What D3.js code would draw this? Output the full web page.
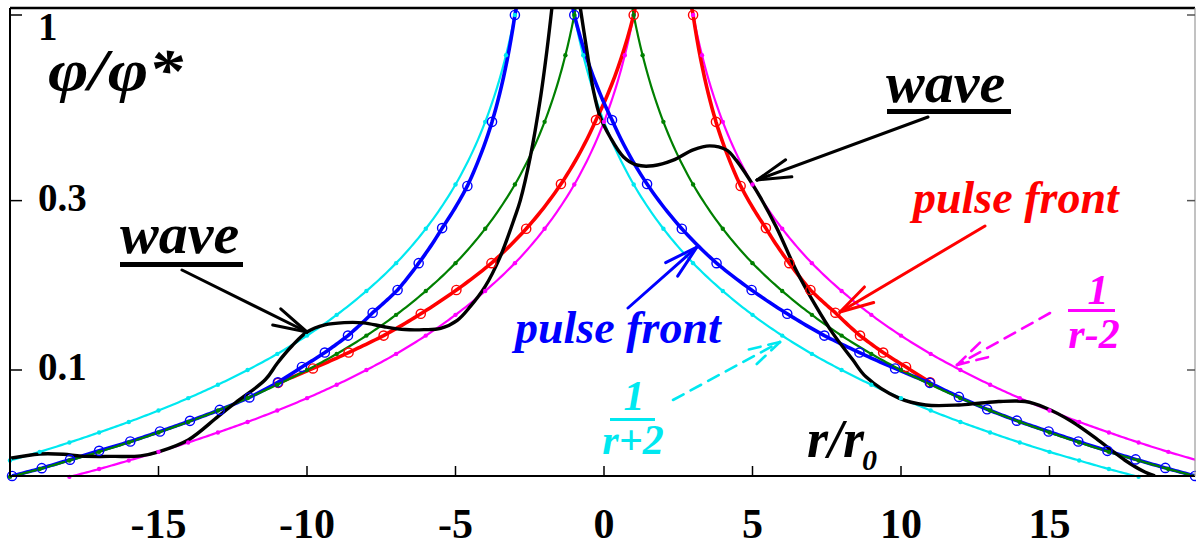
<!DOCTYPE html>
<html><head><meta charset="utf-8">
<script src="https://cdn.jsdelivr.net/npm/d3@7"></script>
<style>
html,body{margin:0;padding:0;background:#fff;}
svg{display:block;}
text{font-family:"Liberation Serif","Times New Roman",serif;font-weight:bold;}
</style></head><body>
<svg id="chart" width="1196" height="544"></svg>
<script>
// ---------- data (r/r0 , phi/phi*) ----------
const xTicks = [-15, -10, -5, 0, 5, 10, 15];
const xTickLabels = ["-15", "-10", "-5", "0", "5", "10", "15"];
const yTicks = [1, 0.3, 0.1];
const yTickLabels = ["1", "0.3", "0.1"];

const cyanLeft = [[-20,0.0556],[-19,0.0588],[-18,0.0625],[-17,0.0667],[-16,0.0714],[-15,0.0769],[-14,0.0833],[-13,0.0909],[-12,0.1],[-11,0.111],[-10,0.125],[-9,0.143],[-8,0.167],[-7,0.2],[-6,0.25],[-5,0.333],[-4,0.5],[-3.3,0.77],[-3,1],[-2.95,1.05]];
const cyanRight = [[-1.05,1.05],[-1,1],[-0.7,0.77],[0,0.5],[1,0.333],[2,0.25],[3,0.2],[4,0.167],[5,0.143],[6,0.125],[7,0.111],[8,0.1],[9,0.0909],[10,0.0833],[11,0.0769],[12,0.0714],[13,0.0667],[14,0.0625],[15,0.0588],[16,0.0556],[17,0.0526],[18,0.05]];

const greenLeft = [[-20,0.05],[-19,0.0526],[-18,0.0556],[-17,0.0588],[-16,0.0625],[-15,0.0667],[-14,0.0714],[-13,0.0769],[-12,0.0833],[-11,0.0909],[-10,0.1],[-9,0.111],[-8,0.125],[-7,0.143],[-6,0.167],[-5,0.2],[-4,0.25],[-3,0.333],[-2,0.5],[-1.3,0.77],[-1,1],[-0.95,1.05]];
const greenRight = [[0.95,1.05],[1,1],[1.3,0.77],[2,0.5],[3,0.333],[4,0.25],[5,0.2],[6,0.167],[7,0.143],[8,0.125],[9,0.111],[10,0.1],[11,0.0909],[12,0.0833],[13,0.0769],[14,0.0714],[15,0.0667],[16,0.0625],[17,0.0588],[18,0.0556],[19,0.0526],[20,0.05]];

const magentaLeft = [[-18,0.05],[-17,0.0526],[-16,0.0556],[-15,0.0588],[-14,0.0625],[-13,0.0667],[-12,0.0714],[-11,0.0769],[-10,0.0833],[-9,0.0909],[-8,0.1],[-7,0.111],[-6,0.125],[-5,0.143],[-4,0.167],[-3,0.2],[-2,0.25],[-1,0.333],[0,0.5],[0.7,0.77],[1,1],[1.05,1.05]];
const magentaRight = [[2.95,1.05],[3,1],[3.3,0.77],[4,0.5],[5,0.333],[6,0.25],[7,0.2],[8,0.167],[9,0.143],[10,0.125],[11,0.111],[12,0.1],[13,0.0909],[14,0.0833],[15,0.0769],[16,0.0714],[17,0.0667],[18,0.0625],[19,0.0588],[20,0.0556]];

const blueLeft = [[-19.93,0.0503],[-18.93,0.0529],[-17.98,0.0559],[-17.0,0.0592],[-15.95,0.0629],[-14.95,0.0671],[-13.94,0.0719],[-12.94,0.0772],[-11.94,0.0837],[-10.98,0.0923],[-10.17,0.102],[-9.4,0.112],[-8.62,0.125],[-7.79,0.145],[-6.95,0.168],[-6.24,0.2],[-5.45,0.251],[-4.6,0.33],[-3.77,0.5],[-3,1],[-2.95,1.05]];
const blueRight = [[-1.05,1.05],[-1,1],[0.27,0.506],[1.45,0.334],[2.62,0.25],[3.79,0.2],[4.97,0.168],[6.17,0.144],[7.42,0.125],[8.6,0.112],[9.8,0.101],[10.97,0.092],[11.95,0.084],[12.9,0.0775],[13.9,0.072],[14.97,0.0671],[15.97,0.0629],[16.95,0.0592],[17.9,0.056],[18.9,0.053],[19.9,0.0503]];

const redLeft = [[-10.97,0.092],[-9.8,0.101],[-8.6,0.112],[-7.42,0.125],[-6.17,0.144],[-4.97,0.168],[-3.79,0.2],[-2.62,0.25],[-1.45,0.334],[-0.27,0.506],[1,1],[1.05,1.05]];
const redRight = [[2.95,1.05],[3,1],[3.77,0.5],[4.6,0.33],[5.45,0.251],[6.24,0.2],[6.95,0.168],[7.79,0.145],[8.62,0.125],[9.4,0.112],[10.17,0.102],[10.98,0.0923]];

const waveLeft = [[-20,0.0564],[-19,0.058],[-18.2,0.0579],[-17.6,0.0572],[-16.5,0.0571],[-15.6,0.0573],[-15.0,0.0588],[-14.0,0.0635],[-13.0,0.0739],[-12.4,0.081],[-11.4,0.094],[-11.0,0.1045],[-10.5,0.117],[-10.0,0.128],[-9.4,0.134],[-8.75,0.136],[-8.1,0.1358],[-7.4,0.1324],[-6.7,0.13],[-6.06,0.1299],[-5.5,0.131],[-4.94,0.138],[-4.5,0.151],[-4.0,0.172],[-3.5,0.208],[-3.0,0.27],[-2.82,0.3],[-2.48,0.399],[-2.15,0.576],[-1.92,0.797],[-1.75,1.055]];
const waveRight = [[-0.8,1.05],[-0.58,0.797],[-0.36,0.615],[-0.13,0.517],[0.2,0.454],[0.65,0.399],[1.1,0.378],[1.65,0.376],[2.33,0.39],[3.0,0.417],[3.56,0.428],[4.12,0.417],[4.45,0.39],[5.12,0.321],[5.8,0.253],[6.47,0.191],[7.14,0.151],[7.7,0.127],[8.37,0.107],[8.82,0.0957],[9.93,0.0833],[10.83,0.0797],[11.95,0.0797],[12.62,0.0806],[13.29,0.0815],[14.18,0.0815],[14.86,0.0783],[15.75,0.0716],[16.64,0.0635],[17.54,0.0557],[18.21,0.0516],[18.55,0.0503]];

// ---------- scales ----------
const svg = d3.select("#chart");
const x = d3.scaleLinear().domain([-20, 20]).range([10, 1198]);
const y = d3.scaleLog().domain([0.1, 1]).range([370, 15]);
const L = 10, R = 1195, T = 8, B = 476;

svg.append("defs").append("clipPath").attr("id", "clip")
  .append("rect").attr("x", L).attr("y", T).attr("width", R - L).attr("height", B - T);

// render-time densification: linear in r and in 1/phi between read points
function dense(pts) {
  const out = [];
  for (let i = 0; i < pts.length - 1; i++) {
    const [r0, v0] = pts[i], [r1, v1] = pts[i + 1];
    for (let k = 0; k < 12; k++) {
      const t = k / 12;
      const r = r0 + (r1 - r0) * t;
      const inv = 1 / v0 + (1 / v1 - 1 / v0) * t;
      out.push([r, 1 / inv]);
    }
  }
  out.push(pts[pts.length - 1]);
  return out;
}
const lineLin = d3.line().x(d => x(d[0])).y(d => y(d[1]));
const lineSmooth = d3.line().x(d => x(d[0])).y(d => y(d[1])).curve(d3.curveCatmullRom.alpha(0.5));

const gLines = svg.append("g").attr("clip-path", "url(#clip)");
const gMarks = svg.append("g");

function series(branches, color, width, marker) {
  branches.forEach(b => {
    gLines.append("path").attr("d", lineLin(dense(b))).attr("fill", "none")
      .attr("stroke", color).attr("stroke-width", width).attr("stroke-linejoin", "round");
    const pts = b.filter(d => d[1] <= 1.001 && d[1] >= 0.0495);
    if (marker === "dot") {
      gMarks.selectAll(null).data(pts).enter().append("circle")
        .attr("cx", d => x(d[0])).attr("cy", d => y(d[1])).attr("r", 2.2).attr("fill", color);
    } else if (marker === "circle") {
      gMarks.selectAll(null).data(pts).enter().append("circle")
        .attr("cx", d => x(d[0])).attr("cy", d => y(d[1])).attr("r", 4.6)
        .attr("fill", "none").attr("stroke", color).attr("stroke-width", 1.4);
    }
  });
}

series([cyanLeft, cyanRight], "#00e8f0", 2.2, "dot");
series([magentaLeft, magentaRight], "#ff00ff", 2.2, "dot");
series([redLeft, redRight], "#ff0000", 3.6, "circle");
series([blueLeft, blueRight], "#0000ff", 3.6, "circle");
series([greenLeft, greenRight], "#008000", 2.2, "dot");

[waveLeft, waveRight].forEach(b => {
  gLines.append("path").attr("d", lineSmooth(b)).attr("fill", "none")
    .attr("stroke", "#000").attr("stroke-width", 3.4).attr("stroke-linejoin", "round");
});

// ---------- frame and ticks ----------
svg.append("line").attr("x1", L).attr("x2", R).attr("y1", T).attr("y2", T).attr("stroke", "#000").attr("stroke-width", 2.6);
svg.append("line").attr("x1", L).attr("x2", L).attr("y1", T).attr("y2", B).attr("stroke", "#000").attr("stroke-width", 2);
svg.append("line").attr("x1", L).attr("x2", R).attr("y1", B).attr("y2", B).attr("stroke", "#000").attr("stroke-width", 2.2);
svg.append("line").attr("x1", R).attr("x2", R).attr("y1", T).attr("y2", B).attr("stroke", "#999").attr("stroke-width", 1.2);

xTicks.forEach(t => {
  svg.append("line").attr("x1", x(t)).attr("x2", x(t)).attr("y1", B).attr("y2", B - 10).attr("stroke", "#000").attr("stroke-width", 1.5);
});
yTicks.forEach(t => {
  svg.append("line").attr("x1", L).attr("x2", L + 12).attr("y1", y(t)).attr("y2", y(t)).attr("stroke", "#000").attr("stroke-width", 1.5);
  svg.append("line").attr("x1", R - 8).attr("x2", R).attr("y1", y(t)).attr("y2", y(t)).attr("stroke", "#555").attr("stroke-width", 1.5);
});

svg.selectAll(null).data(xTicks).enter().append("text")
  .attr("x", d => x(d)).attr("y", 538).attr("text-anchor", "middle")
  .attr("font-size", 42).text((d, i) => xTickLabels[i]);

const yLabelBase = [40, 211, 380];
svg.selectAll(null).data(yTicks).enter().append("text")
  .attr("x", 38).attr("y", (d, i) => yLabelBase[i])
  .attr("font-size", 39).text((d, i) => yTickLabels[i]);

// ---------- annotations ----------
function itext(txt, px, py, size, color, anchor) {
  return svg.append("text").attr("x", px).attr("y", py).attr("font-size", size)
    .attr("font-style", "italic").attr("fill", color).attr("text-anchor", anchor || "start").text(txt);
}
itext("\u03C6/\u03C6*", 48, 90, 60, "#000").attr("textLength", 135).attr("lengthAdjust", "spacingAndGlyphs");
itext("wave", 120, 253, 58, "#000");
svg.append("rect").attr("x", 120).attr("y", 262).attr("width", 123).attr("height", 5).attr("fill", "#000");
itext("wave", 886, 102, 58, "#000");
svg.append("rect").attr("x", 887).attr("y", 109).attr("width", 124).attr("height", 5).attr("fill", "#000");
itext("pulse front", 913, 213, 46, "#ff0000");
itext("pulse front", 515, 343, 46, "#0000ff");

itext("1", 1098, 304, 42, "#ff00ff", "middle");
svg.append("rect").attr("x", 1068).attr("y", 309).attr("width", 47).attr("height", 3).attr("fill", "#ff00ff");
itext("r-2", 1094, 348, 42, "#ff00ff", "middle");

itext("1", 634, 410, 42, "#00e8f0", "middle");
svg.append("rect").attr("x", 610).attr("y", 418).attr("width", 45).attr("height", 3).attr("fill", "#00e8f0");
itext("r+2", 633, 454, 42, "#00e8f0", "middle");

itext("r/r", 807, 457, 54, "#000");
itext("0", 862, 470, 30, "#000");

function arrow(x1, y1, x2, y2, color, w, dashed) {
  const g = svg.append("g").attr("stroke", color).attr("stroke-width", w).attr("fill", "none").attr("stroke-linecap", "round");
  if (dashed) g.attr("stroke-dasharray", "12,8");
  g.append("line").attr("x1", x1).attr("y1", y1).attr("x2", x2).attr("y2", y2);
  const a = Math.atan2(y1 - y2, x1 - x2), len = 35, da = 15 * Math.PI / 180;
  [a + da, a - da].forEach(b => {
    g.append("line").attr("x1", x2).attr("y1", y2)
      .attr("x2", x2 + len * Math.cos(b)).attr("y2", y2 + len * Math.sin(b));
  });
}
arrow(182, 270, 307, 332, "#000", 3, false);
arrow(928, 117, 757, 180, "#000", 3, false);
arrow(985, 226, 840, 312, "#ff0000", 3, false);
arrow(628, 308, 697, 247, "#0000ff", 3, false);
arrow(673, 400, 780, 342, "#00e8f0", 2.6, true);
arrow(1050, 313, 957, 365, "#ff00ff", 2.6, true);
</script>
</body></html>
